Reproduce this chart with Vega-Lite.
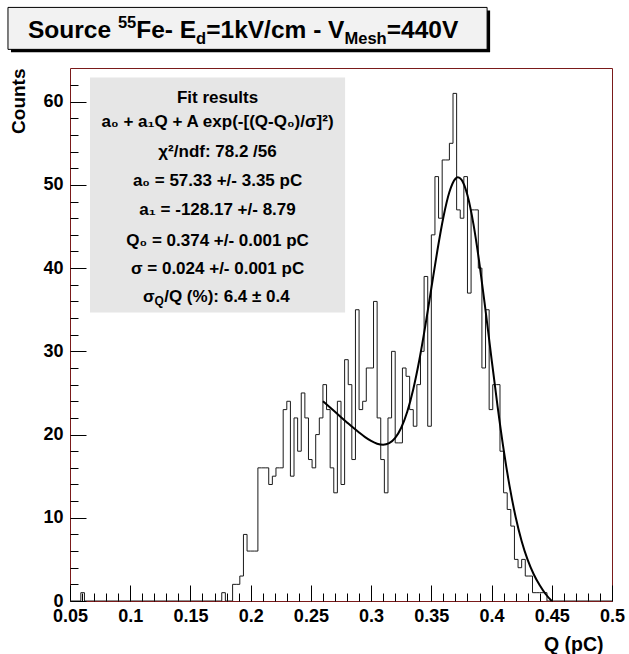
{
  "$schema": "https://vega.github.io/schema/vega-lite/v6.json",
  "width": 542,
  "height": 533,
  "autosize": {"type": "none"},
  "padding": {"left": 70, "top": 68, "right": 17, "bottom": 53},
  "background": "white",
  "config": {"view": {"stroke": "#7a1a1a", "strokeWidth": 1}, "font": "Liberation Sans"},
  "datasets": {
    "hist": [
      {"q": 0.05, "n": 0}, {"q": 0.059, "n": 1}, {"q": 0.062, "n": 0},
      {"q": 0.176, "n": 1}, {"q": 0.179, "n": 0},
      {"q": 0.185, "n": 2}, {"q": 0.188, "n": 2}, {"q": 0.191, "n": 3}, {"q": 0.194, "n": 8},
      {"q": 0.197, "n": 6}, {"q": 0.2, "n": 6}, {"q": 0.203, "n": 6}, {"q": 0.206, "n": 16},
      {"q": 0.209, "n": 16}, {"q": 0.212, "n": 16}, {"q": 0.215, "n": 14}, {"q": 0.218, "n": 15},
      {"q": 0.221, "n": 16}, {"q": 0.224, "n": 16}, {"q": 0.227, "n": 23}, {"q": 0.23, "n": 24},
      {"q": 0.233, "n": 15}, {"q": 0.236, "n": 22}, {"q": 0.239, "n": 18}, {"q": 0.242, "n": 25},
      {"q": 0.245, "n": 22}, {"q": 0.248, "n": 17}, {"q": 0.251, "n": 16}, {"q": 0.254, "n": 20},
      {"q": 0.257, "n": 22}, {"q": 0.26, "n": 26}, {"q": 0.263, "n": 23}, {"q": 0.266, "n": 16},
      {"q": 0.269, "n": 13}, {"q": 0.272, "n": 24}, {"q": 0.275, "n": 14}, {"q": 0.278, "n": 29},
      {"q": 0.281, "n": 26}, {"q": 0.284, "n": 17}, {"q": 0.287, "n": 35}, {"q": 0.29, "n": 23},
      {"q": 0.293, "n": 24}, {"q": 0.296, "n": 28}, {"q": 0.299, "n": 28}, {"q": 0.302, "n": 36},
      {"q": 0.305, "n": 22}, {"q": 0.308, "n": 17}, {"q": 0.311, "n": 13}, {"q": 0.314, "n": 22},
      {"q": 0.317, "n": 30}, {"q": 0.32, "n": 19}, {"q": 0.323, "n": 19}, {"q": 0.326, "n": 28},
      {"q": 0.329, "n": 27}, {"q": 0.332, "n": 23}, {"q": 0.335, "n": 21}, {"q": 0.338, "n": 26},
      {"q": 0.341, "n": 30}, {"q": 0.344, "n": 39}, {"q": 0.347, "n": 21}, {"q": 0.35, "n": 44},
      {"q": 0.353, "n": 51}, {"q": 0.356, "n": 46}, {"q": 0.359, "n": 53}, {"q": 0.362, "n": 53},
      {"q": 0.365, "n": 55}, {"q": 0.368, "n": 61}, {"q": 0.371, "n": 47}, {"q": 0.374, "n": 46},
      {"q": 0.377, "n": 51}, {"q": 0.38, "n": 37}, {"q": 0.383, "n": 47}, {"q": 0.386, "n": 47},
      {"q": 0.389, "n": 40}, {"q": 0.392, "n": 28}, {"q": 0.395, "n": 35}, {"q": 0.398, "n": 23},
      {"q": 0.401, "n": 26}, {"q": 0.404, "n": 26}, {"q": 0.407, "n": 18}, {"q": 0.41, "n": 13},
      {"q": 0.413, "n": 11}, {"q": 0.416, "n": 9}, {"q": 0.419, "n": 5}, {"q": 0.422, "n": 4},
      {"q": 0.425, "n": 5}, {"q": 0.428, "n": 3}, {"q": 0.431, "n": 3}, {"q": 0.434, "n": 1},
      {"q": 0.437, "n": 1}, {"q": 0.44, "n": 1}, {"q": 0.443, "n": 1}, {"q": 0.446, "n": 0},
      {"q": 0.5, "n": 0}
    ],
    "fit": [
      {"q": 0.26, "f": 24.01}, {"q": 0.265, "f": 23.37}, {"q": 0.27, "f": 22.73}, {"q": 0.275, "f": 22.09},
      {"q": 0.28, "f": 21.46}, {"q": 0.285, "f": 20.84}, {"q": 0.29, "f": 20.25}, {"q": 0.295, "f": 19.7},
      {"q": 0.3, "f": 19.24}, {"q": 0.305, "f": 18.9}, {"q": 0.31, "f": 18.78}, {"q": 0.315, "f": 18.97},
      {"q": 0.32, "f": 19.61}, {"q": 0.325, "f": 20.82}, {"q": 0.33, "f": 22.74}, {"q": 0.335, "f": 25.45},
      {"q": 0.34, "f": 28.93}, {"q": 0.345, "f": 33.06}, {"q": 0.35, "f": 37.58}, {"q": 0.355, "f": 42.09},
      {"q": 0.36, "f": 46.11}, {"q": 0.365, "f": 49.14}, {"q": 0.37, "f": 50.74}, {"q": 0.372, "f": 50.91},
      {"q": 0.375, "f": 50.63}, {"q": 0.38, "f": 48.75}, {"q": 0.385, "f": 45.26}, {"q": 0.39, "f": 40.49},
      {"q": 0.395, "f": 34.93}, {"q": 0.4, "f": 29.08}, {"q": 0.405, "f": 23.4}, {"q": 0.41, "f": 18.22},
      {"q": 0.415, "f": 13.77}, {"q": 0.42, "f": 10.1}, {"q": 0.425, "f": 7.19}, {"q": 0.43, "f": 4.94},
      {"q": 0.435, "f": 3.21}, {"q": 0.44, "f": 1.88}, {"q": 0.445, "f": 0.81}, {"q": 0.45, "f": 0.0}
    ],
    "titleMain": [
      {"t": "Source", "x": 0.0151, "y": 67.61},
      {"t": "Fe- E", "x": 0.105, "y": 67.61},
      {"t": "=1kV/cm - V", "x": 0.1631, "y": 67.61},
      {"t": "=440V", "x": 0.313, "y": 67.61}
    ],
    "titleSmall": [
      {"t": "55", "x": 0.0898, "y": 68.8},
      {"t": "d", "x": 0.1547, "y": 66.95},
      {"t": "Mesh", "x": 0.2779, "y": 66.95}
    ],
    "stats": [
      {"t": "Fit results", "y": 59.9},
      {"t": "a₀ + a₁Q + A exp(-[(Q-Q₀)/σ]²)", "y": 56.9},
      {"t": "χ²/ndf: 78.2 /56", "y": 53.3},
      {"t": "a₀ = 57.33 +/- 3.35 pC", "y": 49.81},
      {"t": "a₁ = -128.17 +/- 8.79", "y": 46.33},
      {"t": "Q₀ = 0.374 +/- 0.001 pC", "y": 42.6},
      {"t": "σ = 0.024 +/- 0.001 pC", "y": 39.24}
    ],
    "lastMain": [
      {"t": "σ", "x": 0.1106, "y": 35.99},
      {"t": "/Q (%): 6.4 ± 0.4", "x": 0.1282, "y": 35.99}
    ],
    "lastSmall": [
      {"t": "Q", "x": 0.1201, "y": 35.51}
    ]
  },
  "layer": [
    {
      "data": {"values": [{"a": 1}]},
      "mark": {"type": "rect", "fill": "#000000", "stroke": null},
      "encoding": {
        "x": {"datum": 0.001, "type": "quantitative", "axis": null},
        "x2": {"datum": 0.3988},
        "y": {"datum": 70.97, "type": "quantitative", "axis": null},
        "y2": {"datum": 65.93}
      }
    },
    {
      "data": {"values": [{"a": 1}]},
      "mark": {"type": "rect", "fill": "#f2f2f2", "stroke": "#000000", "strokeWidth": 1},
      "encoding": {
        "x": {"datum": -0.0015, "type": "quantitative", "axis": null},
        "x2": {"datum": 0.3963},
        "y": {"datum": 71.33, "type": "quantitative", "axis": null},
        "y2": {"datum": 66.29}
      }
    },
    {
      "data": {"name": "titleMain"},
      "mark": {"type": "text", "align": "left", "baseline": "alphabetic", "font": "Liberation Sans", "fontWeight": "bold", "fontSize": 24.5, "color": "#000000"},
      "encoding": {
        "x": {"field": "x", "type": "quantitative", "axis": null},
        "y": {"field": "y", "type": "quantitative", "axis": null},
        "text": {"field": "t"}
      }
    },
    {
      "data": {"name": "titleSmall"},
      "mark": {"type": "text", "align": "left", "baseline": "alphabetic", "font": "Liberation Sans", "fontWeight": "bold", "fontSize": 16.5, "color": "#000000"},
      "encoding": {
        "x": {"field": "x", "type": "quantitative", "axis": null},
        "y": {"field": "y", "type": "quantitative", "axis": null},
        "text": {"field": "t"}
      }
    },
    {
      "data": {"values": [{"a": 1}]},
      "mark": {"type": "rect", "fill": "#e6e6e6", "stroke": null},
      "encoding": {
        "x": {"datum": 0.0666, "type": "quantitative", "axis": null},
        "x2": {"datum": 0.2784},
        "y": {"datum": 62.9, "type": "quantitative", "axis": null},
        "y2": {"datum": 34.67}
      }
    },
    {
      "data": {"name": "stats"},
      "mark": {"type": "text", "align": "center", "baseline": "alphabetic", "font": "Liberation Sans", "fontWeight": "bold", "fontSize": 17, "color": "#000000"},
      "encoding": {
        "x": {"datum": 0.1725, "type": "quantitative", "axis": null},
        "y": {"field": "y", "type": "quantitative", "axis": null},
        "text": {"field": "t"}
      }
    },
    {
      "data": {"name": "lastMain"},
      "mark": {"type": "text", "align": "left", "baseline": "alphabetic", "font": "Liberation Sans", "fontWeight": "bold", "fontSize": 17, "color": "#000000"},
      "encoding": {
        "x": {"field": "x", "type": "quantitative", "axis": null},
        "y": {"field": "y", "type": "quantitative", "axis": null},
        "text": {"field": "t"}
      }
    },
    {
      "data": {"name": "lastSmall"},
      "mark": {"type": "text", "align": "left", "baseline": "alphabetic", "font": "Liberation Sans", "fontWeight": "bold", "fontSize": 12, "color": "#000000"},
      "encoding": {
        "x": {"field": "x", "type": "quantitative", "axis": null},
        "y": {"field": "y", "type": "quantitative", "axis": null},
        "text": {"field": "t"}
      }
    },
    {
      "data": {"name": "hist"},
      "mark": {"type": "line", "interpolate": "step-after", "color": "#1a1a1a", "strokeWidth": 1, "clip": true},
      "encoding": {
        "x": {
          "field": "q", "type": "quantitative",
          "scale": {"domain": [0.05, 0.5], "nice": false, "zero": false},
          "axis": {
            "orient": "bottom",
            "values": [0.05, 0.1, 0.15, 0.2, 0.25, 0.3, 0.35, 0.4, 0.45, 0.5],
            "format": "~g", "domain": false, "grid": false,
            "tickSize": -16, "tickColor": "#000000", "tickWidth": 1,
            "labelFont": "Liberation Sans", "labelFontWeight": "bold", "labelFontSize": 18, "labelColor": "#000000",
            "labelPadding": 22, "labelFlush": false, "labelOverlap": false,
            "title": "Q (pC)", "titleFont": "Liberation Sans", "titleFontWeight": "bold", "titleFontSize": 19.5, "titleColor": "#000000",
            "titleAnchor": "end", "titleAlign": "right", "titleX": 533, "titleY": 43, "titleBaseline": "middle"
          }
        },
        "y": {
          "field": "n", "type": "quantitative",
          "scale": {"domain": [0, 64.05], "nice": false, "zero": true},
          "axis": {
            "orient": "left",
            "values": [0, 10, 20, 30, 40, 50, 60],
            "format": "d", "domain": false, "grid": false,
            "tickSize": -16, "tickColor": "#000000", "tickWidth": 1,
            "labelFont": "Liberation Sans", "labelFontWeight": "bold", "labelFontSize": 18, "labelColor": "#000000",
            "labelPadding": 23, "labelFlush": false, "labelOverlap": false,
            "title": "Counts", "titleFont": "Liberation Sans", "titleFontWeight": "bold", "titleFontSize": 19, "titleColor": "#000000",
            "titleAnchor": "end", "titleAngle": -90, "titleAlign": "right", "titleX": -52, "titleY": 0, "titleBaseline": "middle"
          }
        }
      }
    },
    {
      "data": {"name": "fit"},
      "mark": {"type": "line", "interpolate": "monotone", "color": "#000000", "strokeWidth": 2},
      "encoding": {
        "x": {
          "field": "q", "type": "quantitative",
          "axis": {
            "orient": "bottom",
            "values": [0.06, 0.07, 0.08, 0.09, 0.11, 0.12, 0.13, 0.14, 0.16, 0.17, 0.18, 0.19, 0.21, 0.22, 0.23, 0.24, 0.26, 0.27, 0.28, 0.29, 0.31, 0.32, 0.33, 0.34, 0.36, 0.37, 0.38, 0.39, 0.41, 0.42, 0.43, 0.44, 0.46, 0.47, 0.48, 0.49],
            "labels": false, "domain": false, "grid": false, "title": null,
            "tickSize": -8, "tickColor": "#000000", "tickWidth": 1
          }
        },
        "y": {
          "field": "f", "type": "quantitative",
          "axis": {
            "orient": "left",
            "values": [2, 4, 6, 8, 12, 14, 16, 18, 22, 24, 26, 28, 32, 34, 36, 38, 42, 44, 46, 48, 52, 54, 56, 58, 62],
            "labels": false, "domain": false, "grid": false, "title": null,
            "tickSize": -8, "tickColor": "#000000", "tickWidth": 1
          }
        }
      }
    }
  ],
  "resolve": {"axis": {"x": "independent", "y": "independent"}}
}
